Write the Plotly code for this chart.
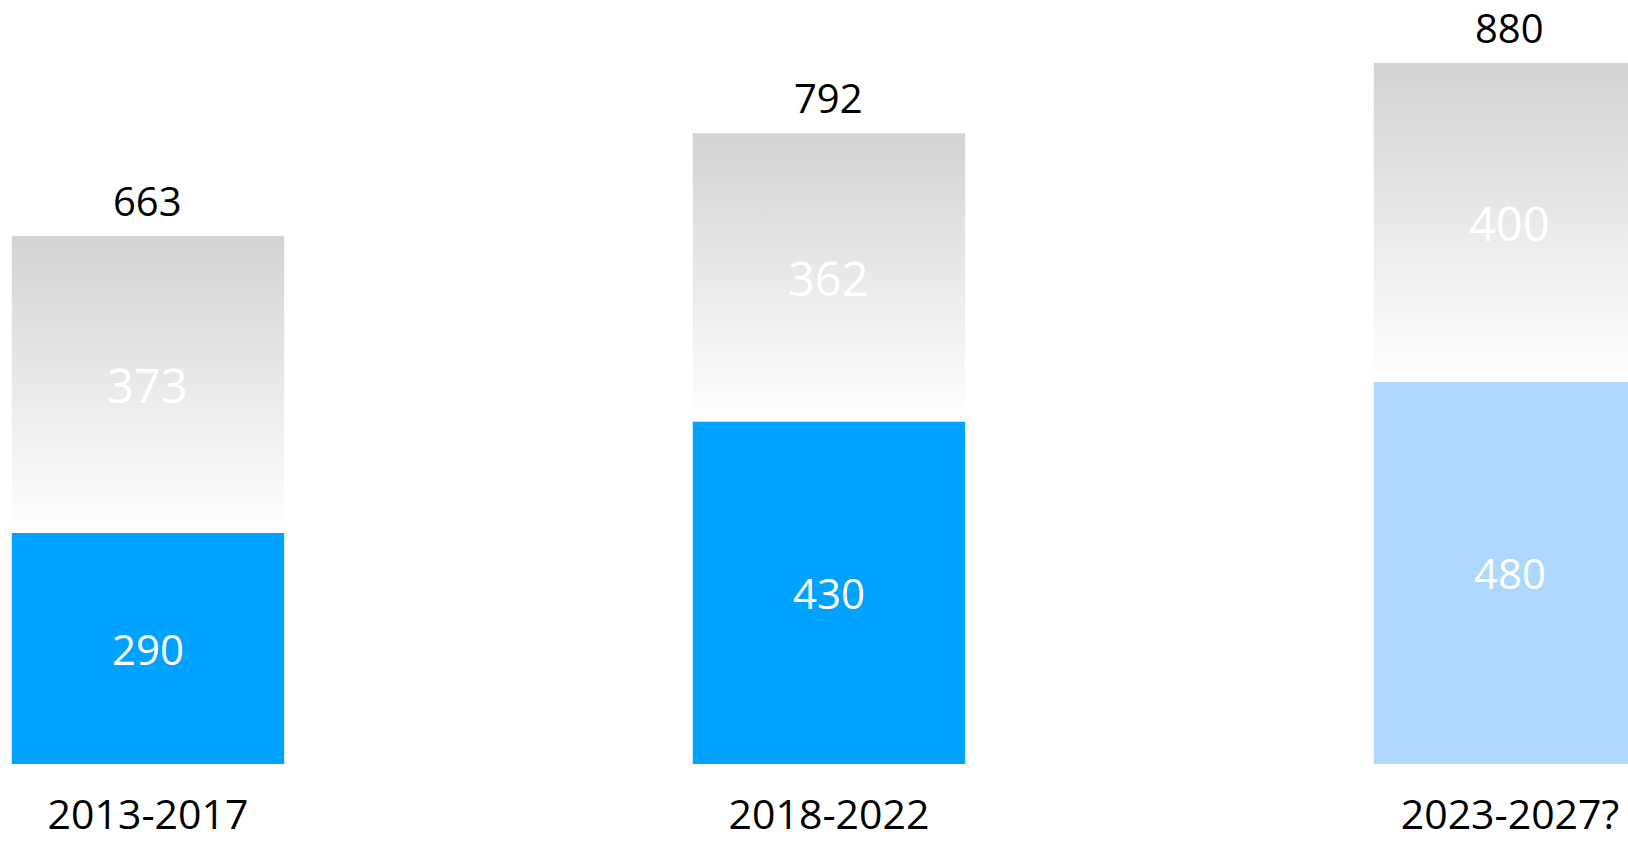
import plotly.graph_objects as go

categories = ["2013-2017", "2018-2022", "2023-2027?"]
blue_values = [290, 430, 480]
grey_values = [373, 362, 400]
totals = [663, 792, 880]

blue_colors = ["#00A2FF", "#00A2FF", "#ADD8FC"]
bar_width = 0.4
x_idx = list(range(len(categories)))

fig = go.Figure()

fig.add_trace(go.Bar(
    x=x_idx, y=blue_values, width=bar_width,
    marker=dict(color=blue_colors, line=dict(width=0)),
    text=[str(v) for v in blue_values], textposition="inside",
    insidetextanchor="middle", textangle=0,
    textfont=dict(color="white", size=42, family="Open Sans"),
    hoverinfo="skip", showlegend=False,
))

for i, (b, g) in enumerate(zip(blue_values, grey_values)):
    x0, x1 = i - bar_width / 2, i + bar_width / 2
    fig.add_trace(go.Scatter(
        x=[x0, x1, x1, x0, x0], y=[b, b, b + g, b + g, b],
        mode="lines", line=dict(width=0), fill="toself",
        fillgradient=dict(type="vertical",
                          colorscale=[[0, "rgb(255,255,255)"], [1, "rgb(211,211,211)"]]),
        hoverinfo="skip", showlegend=False,
    ))

for i, (b, g) in enumerate(zip(blue_values, grey_values)):
    fig.add_annotation(x=i, y=b + g / 2, text=str(g), showarrow=False,
                       yanchor="middle", yshift=-1,
                       font=dict(color="white", size=47, family="Open Sans"))

for i, t in enumerate(totals):
    fig.add_annotation(x=i, y=t, text=str(t), showarrow=False,
                       yanchor="bottom", yshift=6,
                       font=dict(color="black", size=40, family="Open Sans"))

fig.update_layout(
    width=1628, height=841,
    margin=dict(l=0, r=0, t=0, b=77, autoexpand=False),
    paper_bgcolor="white", plot_bgcolor="white",
    xaxis=dict(range=[-0.2173, 2.1733], tickvals=x_idx, ticktext=categories,
               showgrid=False, zeroline=False, showline=False, automargin=False,
               ticks="outside", ticklen=15, tickcolor="rgba(0,0,0,0)",
               tickfont=dict(size=41, color="black", family="Open Sans")),
    yaxis=dict(range=[0, 959.2], visible=False, showgrid=False, zeroline=False,
               automargin=False),
    showlegend=False,
)

fig.write_html("out.html", config={"displayModeBar": False, "staticPlot": True},
               post_script="document.body.style.margin='0';document.body.style.overflow='hidden';")
